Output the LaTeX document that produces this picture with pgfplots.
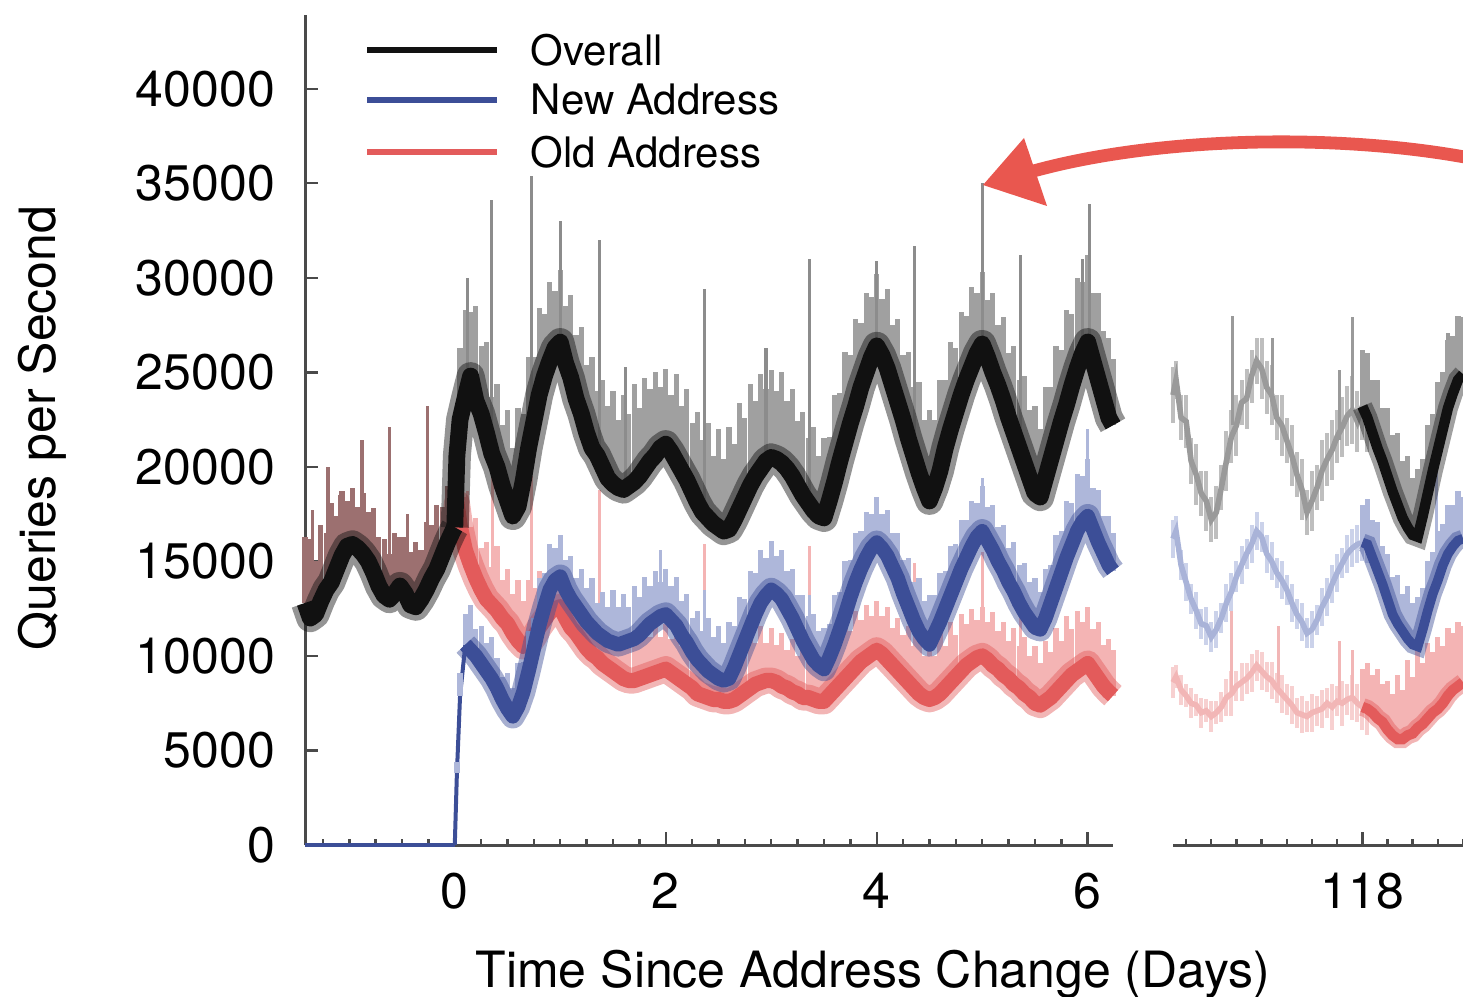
\documentclass[border=0pt]{standalone}
\usepackage{pgfplots}
\pgfplotsset{compat=1.18}
\usepackage{pgfplotstable}
\usepackage{fontspec}
\setmainfont{TeX Gyre Heros}
\definecolor{coreK}{HTML}{111111}
\definecolor{bandK}{HTML}{A0A0A0}
\definecolor{spikeK}{HTML}{8C8C8C}
\definecolor{bandBr}{HTML}{9C7070}
\definecolor{coreB}{HTML}{3C4E97}
\definecolor{bandB}{HTML}{AEB7DA}
\definecolor{coreR}{HTML}{E35B5B}
\definecolor{bandR}{HTML}{F4B4B4}
\definecolor{fadeK}{HTML}{9A9A9A}
\definecolor{fadeKl}{HTML}{BEBEBE}
\definecolor{fadeB}{HTML}{A9B3D8}
\definecolor{fadeBl}{HTML}{CBD2EA}
\definecolor{fadeR}{HTML}{F2B6B6}
\definecolor{fadeRl}{HTML}{F7D0D0}
\definecolor{axisc}{HTML}{4A4A4A}
\definecolor{arrowR}{HTML}{E9574F}

% values in thousands of queries per second
\pgfplotstableread{
x ov ovu
-1.42 12.8 3.5
-1.37 12.0 4.2
-1.32 12.2 2.8
-1.27 12.9 4.0
-1.22 13.5 3.0
-1.17 13.9 4.2
-1.12 14.6 2.8
-1.07 15.3 3.4
-1.02 15.8 2.4
-0.97 15.9 3.0
-0.92 15.7 2.2
-0.87 15.4 3.2
-0.82 15.0 2.6
-0.77 14.4 3.4
-0.72 13.7 2.6
-0.67 13.2 3.0
-0.62 13.0 2.4
-0.57 13.3 3.2
-0.52 13.7 2.6
-0.47 13.3 3.0
-0.42 12.7 2.8
-0.37 12.6 3.4
-0.32 13.0 2.6
-0.27 13.5 3.6
-0.22 14.1 2.8
-0.17 14.6 3.4
-0.12 15.3 2.6
-0.07 16.0 3.0
-0.02 16.6 2.2
0.00 16.8 1.0
}\pre

\pgfplotstableread{
x ov ovu nw nwu od odu
0.00 16.8 1.0 0.0 0.0 16.8 1.0
0.02 20.6 2.5 3.8 0.6 18.1 1.8
0.05 22.5 3.8 7.9 1.2 16.9 2.4
0.10 23.7 4.6 10.6 1.6 15.6 2.8
0.15 24.8 3.4 10.3 2.4 14.8 2.0
0.20 23.5 5.0 10.0 1.4 14.1 3.2
0.25 22.8 3.6 9.6 2.0 13.5 2.2
0.30 21.8 4.8 9.2 1.5 13.0 3.0
0.35 20.7 3.0 8.8 2.2 12.7 2.0
0.40 20.0 4.4 8.3 1.6 12.4 3.4
0.45 19.0 3.2 7.7 1.2 12.0 2.0
0.50 18.2 4.8 7.2 1.9 11.7 2.9
0.55 17.4 3.6 6.8 1.5 11.2 2.1
0.60 17.9 5.2 7.3 2.3 10.8 3.2
0.65 19.3 3.5 8.1 1.6 10.5 2.4
0.70 21.0 4.8 9.2 2.1 10.6 3.4
0.75 22.4 3.4 10.4 1.6 11.0 2.6
0.80 23.8 4.6 11.6 2.5 11.5 3.0
0.85 24.8 3.3 12.6 1.8 11.9 2.2
0.90 25.6 4.2 13.5 2.4 12.3 2.8
0.95 26.3 3.0 14.0 1.7 12.5 2.0
1.00 26.6 3.8 14.2 2.2 12.6 2.5
1.05 25.5 3.0 13.5 1.6 12.0 1.8
1.10 24.7 4.4 13.0 2.3 11.5 3.0
1.15 23.6 3.4 12.6 1.5 11.2 2.0
1.20 22.8 4.6 12.2 2.4 10.8 3.2
1.25 21.8 3.6 11.8 1.8 10.4 2.2
1.30 21.0 4.8 11.5 2.6 10.1 3.4
1.35 20.6 3.4 11.2 1.6 9.9 2.2
1.40 20.0 4.6 11.0 2.4 9.6 3.0
1.45 19.4 3.8 10.8 1.8 9.4 2.4
1.50 19.1 4.9 10.7 2.8 9.2 3.4
1.55 18.9 3.6 10.6 2.0 9.0 2.4
1.60 18.8 5.0 10.7 2.6 8.8 3.2
1.65 19.0 3.8 10.8 1.8 8.7 2.2
1.70 19.2 5.2 10.9 2.8 8.7 3.0
1.75 19.5 3.6 11.1 2.0 8.8 2.0
1.80 19.9 4.8 11.4 2.8 8.9 2.8
1.85 20.3 3.8 11.7 2.0 9.0 2.0
1.90 20.6 4.4 11.9 2.6 9.1 2.6
1.95 21.0 3.2 12.1 1.8 9.2 1.8
2.00 21.2 4.0 12.2 2.4 9.3 2.4
2.05 20.8 3.0 11.9 1.8 9.1 1.8
2.10 20.3 4.6 11.6 2.6 8.9 2.6
2.15 19.8 3.4 11.1 1.8 8.7 1.8
2.20 19.3 4.8 10.7 2.6 8.5 2.8
2.25 18.7 3.6 10.2 1.8 8.3 2.0
2.30 18.1 4.8 9.8 2.6 8.0 3.0
2.35 17.6 3.8 9.5 1.8 7.9 2.2
2.40 17.3 5.0 9.2 2.8 7.8 3.2
2.45 17.0 3.6 9.0 2.0 7.7 2.2
2.50 16.8 5.2 8.8 2.8 7.7 3.0
2.55 16.6 3.8 8.7 2.0 7.6 2.0
2.60 16.7 5.4 8.8 3.0 7.6 3.0
2.65 17.2 4.0 9.4 2.2 7.7 2.2
2.70 17.8 5.6 10.1 3.0 7.9 3.2
2.75 18.4 4.2 10.8 2.2 8.1 2.2
2.80 19.0 5.4 11.5 3.0 8.3 3.0
2.85 19.5 4.0 12.2 2.2 8.5 2.2
2.90 19.9 5.0 12.8 2.8 8.6 3.0
2.95 20.3 3.8 13.2 2.0 8.7 2.0
3.00 20.5 4.6 13.5 2.6 8.7 2.8
3.05 20.4 3.6 13.3 2.0 8.6 2.0
3.10 20.2 4.8 13.0 2.6 8.4 2.8
3.15 19.9 3.6 12.5 2.0 8.3 2.0
3.20 19.5 4.6 12.0 2.6 8.1 2.8
3.25 19.0 3.4 11.4 1.8 8.0 2.0
3.30 18.5 4.4 10.8 2.4 7.8 2.8
3.35 18.1 3.4 10.3 1.8 7.8 2.0
3.40 17.7 4.4 9.8 2.4 7.7 2.8
3.45 17.4 3.2 9.5 1.8 7.6 2.0
3.50 17.3 4.2 9.3 2.2 7.6 2.6
3.55 18.2 3.4 9.9 1.8 7.9 2.0
3.60 19.2 4.6 10.6 2.6 8.2 2.8
3.65 20.3 3.6 11.4 2.0 8.5 2.2
3.70 21.3 4.8 12.2 2.8 8.8 3.0
3.75 22.3 3.6 13.1 2.0 9.1 2.2
3.80 23.2 4.6 13.9 2.6 9.4 3.0
3.85 24.2 3.4 14.6 2.0 9.7 2.2
3.90 25.0 4.2 15.2 2.4 9.9 2.8
3.95 25.8 3.2 15.7 1.8 10.1 2.0
4.00 26.4 3.8 16.0 2.4 10.3 2.6
4.05 25.9 3.0 15.7 1.8 10.1 2.0
4.10 25.2 4.2 15.3 2.4 9.8 2.8
4.15 24.3 3.2 14.7 1.8 9.5 2.0
4.20 23.4 4.4 14.1 2.4 9.2 2.8
4.25 22.5 3.4 13.3 1.8 8.9 2.2
4.30 21.5 4.6 12.6 2.6 8.6 3.0
4.35 20.6 3.6 11.9 2.0 8.3 2.2
4.40 19.7 4.8 11.3 2.8 8.0 3.0
4.45 18.9 3.6 10.9 2.0 7.8 2.2
4.50 18.2 4.8 10.6 2.6 7.7 3.0
4.55 18.9 3.6 11.2 2.0 7.8 2.2
4.60 19.8 4.8 11.8 2.6 8.0 3.2
4.65 21.0 3.6 12.5 2.0 8.3 2.2
4.70 22.0 4.6 13.2 2.6 8.6 3.2
4.75 22.9 3.4 13.9 2.0 8.9 2.2
4.80 23.8 4.4 14.6 2.6 9.2 3.0
4.85 24.6 3.4 15.2 2.0 9.5 2.2
4.90 25.3 4.2 15.8 2.4 9.7 2.8
4.95 26.0 3.2 16.3 1.8 9.9 2.0
5.00 26.5 3.8 16.6 2.4 10.0 2.6
5.05 25.8 3.0 16.1 1.8 9.8 2.0
5.10 25.0 4.2 15.6 2.4 9.5 2.8
5.15 24.3 3.2 15.0 1.8 9.3 2.0
5.20 23.5 4.4 14.5 2.4 9.0 2.8
5.25 22.6 3.4 13.9 1.8 8.8 2.0
5.30 21.8 4.6 13.4 2.6 8.5 3.0
5.35 21.0 3.6 12.8 2.0 8.3 2.2
5.40 20.2 4.6 12.3 2.6 8.0 3.0
5.45 19.4 3.6 11.9 2.0 7.8 2.2
5.50 18.6 4.6 11.5 2.6 7.5 3.0
5.55 18.4 3.6 11.4 2.0 7.4 2.2
5.60 19.4 4.8 12.0 2.6 7.6 3.2
5.65 20.4 3.8 12.8 2.0 7.8 2.4
5.70 21.4 5.0 13.6 2.8 8.1 3.4
5.75 22.4 3.8 14.4 2.2 8.4 2.4
5.80 23.3 5.0 15.2 3.0 8.7 3.4
5.85 24.3 3.8 15.9 2.2 9.0 2.4
5.90 25.2 4.8 16.6 3.0 9.2 3.2
5.95 26.0 3.8 17.1 2.4 9.4 2.4
6.00 26.6 4.6 17.4 3.0 9.6 3.0
6.05 25.6 3.6 16.7 2.2 9.2 2.2
6.10 24.6 4.6 16.0 2.8 8.8 3.0
6.15 23.6 3.6 15.4 2.0 8.4 2.2
6.20 22.6 4.2 14.8 2.6 8.1 2.8
6.24 22.2 3.5 14.5 2.0 7.9 2.4
}\post

% tall isolated spikes: x, base, length
\pgfplotstableread{
x y up
-1.35 12.0 5.7
-1.20 13.2 6.8
-1.09 15.0 3.5
-0.88 15.4 6.0
-0.62 13.0 9.1
-0.45 13.0 4.5
-0.26 13.5 9.7
}\spkBr
\pgfplotstableread{
x y up
0.12 24.0 6.0
0.35 20.7 13.4
0.73 22.0 13.4
1.00 26.6 6.4
1.37 20.3 11.7
1.62 18.8 6.5
2.37 17.5 11.9
2.95 20.3 6.0
3.36 18.0 13.0
4.00 26.4 4.5
4.36 20.9 10.8
5.00 26.5 8.5
5.36 21.3 9.9
5.95 26.0 5.0
6.02 26.4 7.5
}\spkK
\pgfplotstableread{
x y up
0.12 15.2 3.5
0.36 12.7 7.0
0.73 11.0 8.5
1.37 9.8 9.0
2.37 7.9 8.0
3.36 7.8 8.0
4.36 8.4 6.5
5.00 10.0 5.5
5.36 8.3 6.0
}\spkR
\pgfplotstableread{
x y up
1.95 12.1 3.5
2.37 9.5 4.0
3.36 10.2 3.0
5.00 16.6 2.8
6.00 17.4 4.6
}\spkB

% right panel, sparse (faded) part
\pgfplotstableread{
x ov ovu nw nwu od odu
116.12 23.8 1.5 16.2 1.0 8.6 0.8
116.15 24.6 1.0 16.6 0.8 8.9 0.6
116.20 22.6 1.2 14.8 0.8 8.2 0.8
116.25 22.4 1.4 13.9 1.0 7.9 0.6
116.30 20.3 1.2 13.0 0.8 7.5 0.8
116.35 19.6 1.6 12.4 1.0 7.4 0.6
116.40 18.6 1.2 11.7 0.8 7.0 0.8
116.45 18.2 1.6 11.6 1.0 7.1 0.6
116.50 17.2 1.2 11.0 0.8 6.8 0.8
116.55 17.6 1.4 11.4 1.0 7.0 0.6
116.60 18.9 1.2 12.0 0.8 7.3 0.8
116.65 20.3 1.6 12.8 1.0 7.8 1.0
116.70 21.6 1.4 13.4 1.0 8.0 1.2
116.75 22.2 1.6 14.2 0.8 8.4 0.8
116.80 23.4 1.2 14.8 1.0 8.6 1.0
116.85 23.6 1.6 15.4 0.8 8.8 0.8
116.90 24.8 1.4 15.9 1.0 9.1 1.0
116.95 25.6 1.2 16.6 1.0 9.5 0.8
117.00 25.2 1.6 16.3 0.8 9.2 1.0
117.05 24.2 1.4 15.4 1.0 8.9 0.8
117.10 23.8 1.6 15.0 1.0 8.7 1.0
117.15 22.6 1.2 14.4 0.8 8.3 0.8
117.20 22.2 1.6 14.0 1.0 8.0 1.0
117.25 21.4 1.2 13.5 0.8 7.7 0.8
117.30 20.6 1.6 12.8 1.0 7.4 1.0
117.35 19.6 1.2 12.2 0.8 7.0 0.8
117.40 18.8 1.6 11.8 1.0 6.9 1.0
117.45 17.6 1.2 11.2 0.8 6.8 0.8
117.50 18.2 1.6 11.4 1.0 7.0 1.0
117.55 18.9 1.2 11.9 0.8 7.1 0.8
117.60 19.8 1.6 12.6 1.0 7.2 1.0
117.65 20.4 1.4 13.1 1.0 7.5 0.8
117.70 20.9 1.6 13.8 1.0 7.3 1.2
117.75 21.6 1.4 14.4 1.0 7.6 0.8
117.80 22.1 1.6 14.9 0.8 7.5 1.2
117.85 22.7 1.6 15.4 1.0 7.7 0.8
117.90 23.0 1.8 15.7 1.0 7.8 1.2
117.95 22.4 1.6 15.9 1.0 7.5 1.0
118.00 23.2 1.8 16.0 1.0 7.3 1.2
118.05 22.8 2.0 16.1 1.2 7.2 1.4
}\rfade

% right panel, dense part
\pgfplotstableread{
x ov ovu nw nwu od odu
118.00 23.2 3.0 16.0 2.0 7.3 2.0
118.05 22.6 3.4 15.9 2.4 7.2 2.4
118.10 21.8 2.8 15.2 2.0 7.0 2.0
118.15 21.0 3.6 14.5 2.6 6.7 2.6
118.20 20.3 2.8 13.8 2.0 6.5 2.0
118.25 19.5 3.6 13.0 2.4 6.1 2.6
118.30 18.7 3.0 12.2 2.0 5.8 2.2
118.35 18.0 3.8 11.7 2.6 5.6 3.4
118.40 17.3 3.0 11.3 2.0 5.6 2.6
118.45 16.8 3.8 10.9 2.8 5.8 4.0
118.50 16.4 3.0 10.6 2.2 5.9 3.0
118.55 16.3 3.6 10.5 2.6 6.2 4.2
118.60 17.4 3.0 11.4 2.2 6.4 3.2
118.65 18.6 3.6 12.4 2.6 6.7 4.0
118.70 19.8 3.0 13.3 2.2 7.0 3.2
118.75 20.9 3.6 14.0 2.6 7.2 3.8
118.80 22.0 3.0 14.8 2.2 7.5 3.0
118.85 23.1 3.6 15.4 2.6 7.9 3.6
118.90 23.9 3.0 15.8 2.2 8.2 3.0
118.95 24.6 3.4 16.1 2.6 8.4 3.4
119.00 24.9 3.0 16.2 2.2 8.6 3.0
}\rdark

\pgfplotstableread{
x y up
116.71 22.2 5.8
117.11 23.8 3.0
117.77 21.4 3.7
117.90 23.0 4.9
118.04 22.8 3.2
118.85 23.1 4.0
}\rspkK
\pgfplotstableread{
x y up
116.70 8.0 5.0
117.17 8.2 3.4
117.77 7.6 3.2
117.90 7.8 2.5
}\rspkR
\pgfplotstableread{
x y up
118.74 13.8 6.5
}\rspkB

\begin{document}
\begin{tikzpicture}
\pgfplotsset{
  common/.style={
    scale only axis, height=207.5pt, ymin=0, ymax=43.9,
    axis x line*=bottom,
    axis line style={draw=axisc, line width=0.75pt},
    tick style={draw=axisc, line width=0.6pt},
    tick align=inside,
    major tick length=3.2pt, minor tick length=1.6pt,
    ticklabel style={font=\fontsize{12.5}{15}\selectfont},
    /pgf/number format/assume math mode=true,
    xticklabel style={yshift=-3.5pt},
    clip=false,
  },
  bar/.style 2 args={draw=none, mark=none, forget plot,
    error bars/.cd, y dir=plus, y explicit, error mark=none,
    error bar style={draw=#1, line width=#2, solid}},
  sbar/.style 2 args={draw=none, mark=none, forget plot,
    error bars/.cd, y dir=both, y explicit, error mark=none,
    error bar style={draw=#1, line width=#2, solid}},
}
% ---------------- left panel ----------------
\begin{axis}[common,
  at={(76.25pt,37.75pt)}, anchor=south west, width=202pt,
  xmin=-1.42, xmax=6.24,
  axis y line*=left,
  xtick={0,2,4,6}, xticklabels={0,2,4,6},
  minor xtick={-1.25,-1,...,6},
  ytick={0,5,...,40},
  yticklabels={0,5000,10000,15000,20000,25000,30000,35000,40000},
  yticklabel style={xshift=-4pt},
]
% old address
\addplot[bar={bandR}{1.3pt}] table[x=x, y=od, y error plus=odu] \post;
\addplot[bar={bandR}{0.8pt}] table[x=x, y=y, y error plus=up] \spkR;
\addplot[coreR, line width=6.5pt, opacity=0.45, line join=round] table[x=x, y=od] \post;
\addplot[coreR, line width=3.8pt, line join=round] table[x=x, y=od] \post;
% new address
\addplot[coreB, line width=1.2pt] coordinates {(-1.42,0) (0,0)};
\addplot[coreB, line width=1pt] table[x=x, y=nw] \post;
\addplot[bar={bandB}{1.3pt}] table[x=x, y=nw, y error plus=nwu] \post;
\addplot[bar={bandB}{0.8pt}] table[x=x, y=y, y error plus=up] \spkB;
\addplot[coreB, line width=6pt, opacity=0.45, line join=round, skip coords between index={0}{3}] table[x=x, y=nw] \post;
\addplot[coreB, line width=3.6pt, line join=round, skip coords between index={0}{3}] table[x=x, y=nw] \post;
% overall
\addplot[bar={bandBr}{1.3pt}] table[x=x, y=ov, y error plus=ovu] \pre;
\addplot[bar={bandBr}{0.9pt}] table[x=x, y=y, y error plus=up] \spkBr;
\addplot[bar={bandK}{1.3pt}] table[x=x, y=ov, y error plus=ovu] \post;
\addplot[bar={spikeK}{0.8pt}] table[x=x, y=y, y error plus=up] \spkK;
\addplot[coreK, line width=7pt, opacity=0.45, line join=round] table[x=x, y=ov] \pre;
\addplot[coreK, line width=7pt, opacity=0.45, line join=round] table[x=x, y=ov] \post;
\addplot[coreK, line width=4.2pt, line join=round] table[x=x, y=ov] \pre;
\addplot[coreK, line width=4.2pt, line join=round] table[x=x, y=ov] \post;
\end{axis}
% ---------------- right panel ----------------
\begin{axis}[common,
  at={(293.25pt,37.75pt)}, anchor=south west, width=72.5pt,
  xmin=116.12, xmax=119.0,
  axis y line=none,
  xtick={118}, xticklabels={118},
  minor xtick={116.25,116.5,...,119},
]
\addplot[sbar={fadeRl}{1pt}] table[x=x, y=od, y error=odu] \rfade;
\addplot[bar={fadeR}{0.8pt}] table[x=x, y=y, y error plus=up] \rspkR;
\addplot[fadeR, line width=1.4pt] table[x=x, y=od] \rfade;
\addplot[bar={bandR}{1.3pt}] table[x=x, y=od, y error plus=odu] \rdark;
\addplot[coreR, line width=4.5pt, opacity=0.45] table[x=x, y=od] \rdark;
\addplot[coreR, line width=2.6pt] table[x=x, y=od] \rdark;

\addplot[sbar={fadeBl}{1pt}] table[x=x, y=nw, y error=nwu] \rfade;
\addplot[fadeB, line width=1.4pt] table[x=x, y=nw] \rfade;
\addplot[bar={bandB}{1.3pt}] table[x=x, y=nw, y error plus=nwu] \rdark;
\addplot[bar={bandB}{0.8pt}] table[x=x, y=y, y error plus=up] \rspkB;
\addplot[coreB, line width=4.5pt, opacity=0.45] table[x=x, y=nw] \rdark;
\addplot[coreB, line width=2.4pt] table[x=x, y=nw] \rdark;

\addplot[sbar={fadeKl}{1pt}] table[x=x, y=ov, y error=ovu] \rfade;
\addplot[bar={fadeK}{0.8pt}] table[x=x, y=y, y error plus=up] \rspkK;
\addplot[fadeK, line width=1.4pt] table[x=x, y=ov] \rfade;
\addplot[bar={bandK}{1.3pt}] table[x=x, y=ov, y error plus=ovu] \rdark;
\addplot[coreK, line width=5pt, opacity=0.4] table[x=x, y=ov] \rdark;
\addplot[coreK, line width=2.6pt] table[x=x, y=ov] \rdark;
\end{axis}
% ---------------- labels, legend, annotation (pixel grid of the image) ----------------
\begin{scope}[x=0.25pt, y=-0.25pt, yshift=249pt]
  \node[rotate=90, anchor=base, inner sep=0pt, font=\fontsize{12.5}{15}\selectfont] at (55,428) {Queries per Second};
  \node[anchor=base, inner sep=0pt, font=\fontsize{12.5}{15}\selectfont] at (873,987) {Time Since Address Change (Days)};
  \draw[coreK, line width=1.6pt] (367,50) -- (497,50);
  \draw[coreB, line width=1.6pt] (367,100) -- (497,100);
  \draw[coreR, line width=1.6pt] (367,152) -- (497,152);
  \node[anchor=west, inner sep=0pt, font=\fontsize{10.5}{12}\selectfont] at (530,50) {Overall};
  \node[anchor=west, inner sep=0pt, font=\fontsize{10.5}{12}\selectfont] at (530,100) {New Address};
  \node[anchor=west, inner sep=0pt, font=\fontsize{10.5}{12}\selectfont] at (530,152) {Old Address};
  \draw[arrowR, line width=3.2pt, line cap=round] (1470,158) .. controls (1330,132) and (1150,138) .. (1030,172);
  \fill[arrowR] (983,185) -- (1024,138) -- (1047,206) -- cycle;
\end{scope}
\pgfresetboundingbox
\useasboundingbox (0,0) rectangle (365.75pt,249pt);
\end{tikzpicture}
\end{document}
